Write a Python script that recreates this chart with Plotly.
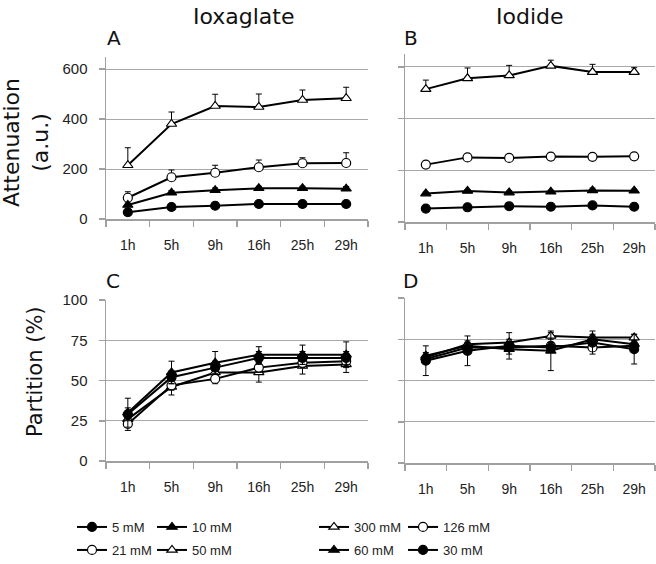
import plotly.graph_objects as go

# ---------------- data ----------------
times = ["1h", "5h", "9h", "16h", "25h", "29h"]

# Panel A: Ioxaglate attenuation (a.u.)
iox_att_5 = [27, 48, 53, 60, 60, 60]
iox_att_5_err = [5, 6, 6, 6, 6, 6]
iox_att_10 = [56, 105, 115, 123, 123, 121]
iox_att_10_err = [8, 9, 9, 8, 8, 9]
iox_att_21 = [85, 167, 185, 207, 223, 224]
iox_att_21_err = [24, 29, 30, 29, 22, 41]
iox_att_50 = [215, 380, 452, 448, 476, 483]
iox_att_50_err = [70, 48, 47, 52, 40, 44]

# Panel B: Iodide attenuation (a.u.)
iod_att_300 = [514, 556, 567, 604, 580, 580]
iod_att_300_err = [35, 40, 39, 22, 30, 17]
iod_att_126 = [222, 250, 248, 253, 252, 254]
iod_att_126_err = [6, 6, 6, 6, 6, 6]
iod_att_60 = [110, 120, 114, 117, 122, 121]
iod_att_60_err = [6, 6, 6, 6, 9, 6]
iod_att_30 = [52, 57, 61, 59, 64, 59]
iod_att_30_err = [4, 4, 4, 4, 4, 4]

# Panel C: Ioxaglate partition (%)
iox_par_5 = [29, 52, 58, 64, 64, 64]
iox_par_5_err = [4, 4, 4, 4, 4, 4]
iox_par_10 = [30, 55, 61, 66, 66, 66]
iox_par_10_err = [9, 7, 7, 5, 6, 8]
iox_par_21 = [23, 47, 51, 58, 61, 62]
iox_par_21_err = [4, 3, 3, 3, 3, 3]
iox_par_50 = [26, 46, 55, 55, 59, 60]
iox_par_50_err = [5, 5, 4, 6, 5, 5]

# Panel D: Iodide partition (%)
iod_par_300 = [64, 72, 73, 77, 76, 76]
iod_par_300_err = [2, 2, 2, 2, 2, 2]
iod_par_126 = [63, 70, 70, 71, 70, 71]
iod_par_126_err = [2, 2, 2, 2, 2, 2]
iod_par_60 = [65, 71, 69, 68, 75, 72]
iod_par_60_err = [2, 2, 3, 12, 2, 2]
iod_par_30 = [62, 68, 71, 70, 73, 69]
iod_par_30_err = [9, 9, 8, 3, 7, 9]

# ---------------- styling ----------------
W, H = 656, 564
GRID = "#a8a8a8"
AXIS = "#a0a0a0"
SANS = "Liberation Sans, Arial, sans-serif"
TITLE_FONT = "DejaVu Sans, Verdana, sans-serif"


def px_x(p):
    return p / W


def px_y(p):
    return 1 - p / H


sym_style = {
    "fc": dict(symbol="circle", color="black"),
    "ft": dict(symbol="triangle-up", color="black"),
    "oc": dict(symbol="circle", color="white"),
    "ot": dict(symbol="triangle-up", color="white"),
}

fig = go.Figure()


def add(y, err, name, sym, xa, ya, legend, showlegend, plus_only):
    st = sym_style[sym]
    ed = dict(type="data", array=err, color="black", thickness=1, width=3, visible=True)
    if plus_only:
        ed["symmetric"] = False
        ed["arrayminus"] = [0] * len(err)
    fig.add_trace(go.Scatter(
        x=times, y=y, name=name, mode="lines+markers",
        line=dict(color="black", width=2),
        marker=dict(symbol=st["symbol"], color=st["color"], size=9,
                    line=dict(color="black", width=1.2)),
        error_y=ed, xaxis=xa, yaxis=ya, legend=legend,
        showlegend=showlegend, cliponaxis=False,
    ))


# Panel A (legend entries come from A / B)
add(iox_att_50, iox_att_50_err, "50 mM", "ot", "x", "y", "legend4", True, True)
add(iox_att_21, iox_att_21_err, "21 mM", "oc", "x", "y", "legend3", True, True)
add(iox_att_10, iox_att_10_err, "10 mM", "ft", "x", "y", "legend2", True, True)
add(iox_att_5, iox_att_5_err, "5 mM", "fc", "x", "y", "legend", True, True)

# Panel B
add(iod_att_300, iod_att_300_err, "300 mM", "ot", "x2", "y2", "legend5", True, True)
add(iod_att_126, iod_att_126_err, "126 mM", "oc", "x2", "y2", "legend6", True, True)
add(iod_att_60, iod_att_60_err, "60 mM", "ft", "x2", "y2", "legend7", True, True)
add(iod_att_30, iod_att_30_err, "30 mM", "fc", "x2", "y2", "legend8", True, True)

# Panel C
add(iox_par_50, iox_par_50_err, "50 mM", "ot", "x3", "y3", "legend", False, False)
add(iox_par_21, iox_par_21_err, "21 mM", "oc", "x3", "y3", "legend", False, False)
add(iox_par_5, iox_par_5_err, "5 mM", "fc", "x3", "y3", "legend", False, False)
add(iox_par_10, iox_par_10_err, "10 mM", "ft", "x3", "y3", "legend", False, False)

# Panel D
add(iod_par_126, iod_par_126_err, "126 mM", "oc", "x4", "y4", "legend", False, False)
add(iod_par_300, iod_par_300_err, "300 mM", "ot", "x4", "y4", "legend", False, False)
add(iod_par_60, iod_par_60_err, "60 mM", "ft", "x4", "y4", "legend", False, False)
add(iod_par_30, iod_par_30_err, "30 mM", "fc", "x4", "y4", "legend", False, False)


def xaxis(domain, anchor):
    return dict(
        domain=domain, anchor=anchor, type="category", range=[-0.5, 5.5],
        tickson="boundaries", ticks="outside", ticklen=6, tickcolor=AXIS, tickwidth=1.5,
        showline=True, linecolor=AXIS, linewidth=1.5, showgrid=False, zeroline=False,
        tickfont=dict(family=SANS, size=14, color="#222"), ticklabelstandoff=13,
        fixedrange=True,
    )


def yaxis(domain, anchor, rng, tickvals, labels):
    return dict(
        domain=domain, anchor=anchor, range=rng, tickvals=tickvals,
        ticks="outside", ticklen=6, tickcolor=AXIS, tickwidth=1.5,
        showline=True, linecolor=AXIS, linewidth=1.5,
        showgrid=True, gridcolor=GRID, gridwidth=1, zeroline=False,
        showticklabels=labels, tickfont=dict(family=SANS, size=15, color="#222"),
        ticklabelstandoff=8, fixedrange=True,
    )


xA = [px_x(106), px_x(368)]
xB = [px_x(405), px_x(655)]
att_ticks = [0, 200, 400, 600]
par_ticks = [0, 25, 50, 75, 100]

fig.update_layout(
    width=W, height=H, autosize=False,
    margin=dict(l=0, r=0, t=0, b=0, pad=0, autoexpand=False),
    paper_bgcolor="white", plot_bgcolor="white",
    xaxis=xaxis(xA, "y"),
    yaxis=yaxis([px_y(219), px_y(56.5)], "x", [0, 650], att_ticks, True),
    xaxis2=xaxis(xB, "y2"),
    yaxis2=yaxis([px_y(222), px_y(54)], "x2", [0, 650], att_ticks, False),
    xaxis3=xaxis(xA, "y3"),
    yaxis3=yaxis([px_y(461), px_y(300)], "x3", [0, 100], par_ticks, True),
    xaxis4=xaxis(xB, "y4"),
    yaxis4=yaxis([px_y(463), px_y(298)], "x4", [0, 100], par_ticks, False),
)

leg_common = dict(orientation="h", xref="paper", yref="paper", xanchor="left", yanchor="middle",
                  font=dict(family=SANS, size=13, color="#222"), bgcolor="rgba(0,0,0,0)",
                  itemwidth=30, tracegroupgap=0, borderwidth=0,
                  itemclick=False, itemdoubleclick=False)
# legend boxes: (name, left x px, centre y px)
leg_pos = {
    "legend": (72, 527), "legend2": (152, 527),
    "legend3": (72, 550), "legend4": (152, 550),
    "legend5": (314, 527), "legend6": (403, 527),
    "legend7": (314, 550), "legend8": (403, 550),
}
fig.update_layout(**{k: dict(x=px_x(v[0]), y=px_y(v[1]), **leg_common) for k, v in leg_pos.items()})

ann = []
ann.append(dict(text="Ioxaglate", x=px_x(244), y=px_y(16), showarrow=False,
                font=dict(family=TITLE_FONT, size=22, color="#111"), xanchor="center", yanchor="middle"))
ann.append(dict(text="Iodide", x=px_x(530), y=px_y(16), showarrow=False,
                font=dict(family=TITLE_FONT, size=22, color="#111"), xanchor="center", yanchor="middle"))
for lab, xx, yy in [("A", 114, 38), ("B", 411, 38), ("C", 113, 281), ("D", 410, 281)]:
    ann.append(dict(text=lab, x=px_x(xx), y=px_y(yy), showarrow=False,
                    font=dict(family=TITLE_FONT, size=20, color="#111"), xanchor="center", yanchor="middle"))
ann.append(dict(text="Attenuation<br>(a.u.)", x=px_x(26), y=px_y(143), showarrow=False, textangle=-90,
                font=dict(family=TITLE_FONT, size=22, color="#111"), xanchor="center", yanchor="middle"))
ann.append(dict(text="Partition (%)", x=px_x(35), y=px_y(372), showarrow=False, textangle=-90,
                font=dict(family=TITLE_FONT, size=21, color="#111"), xanchor="center", yanchor="middle"))
for a in ann:
    a["xref"] = "paper"
    a["yref"] = "paper"
fig.update_layout(annotations=ann)

fig.write_html(
    "out.html",
    config={"displayModeBar": False, "staticPlot": True},
    post_script="document.body.style.margin='0';document.body.style.overflow='hidden';",
)
